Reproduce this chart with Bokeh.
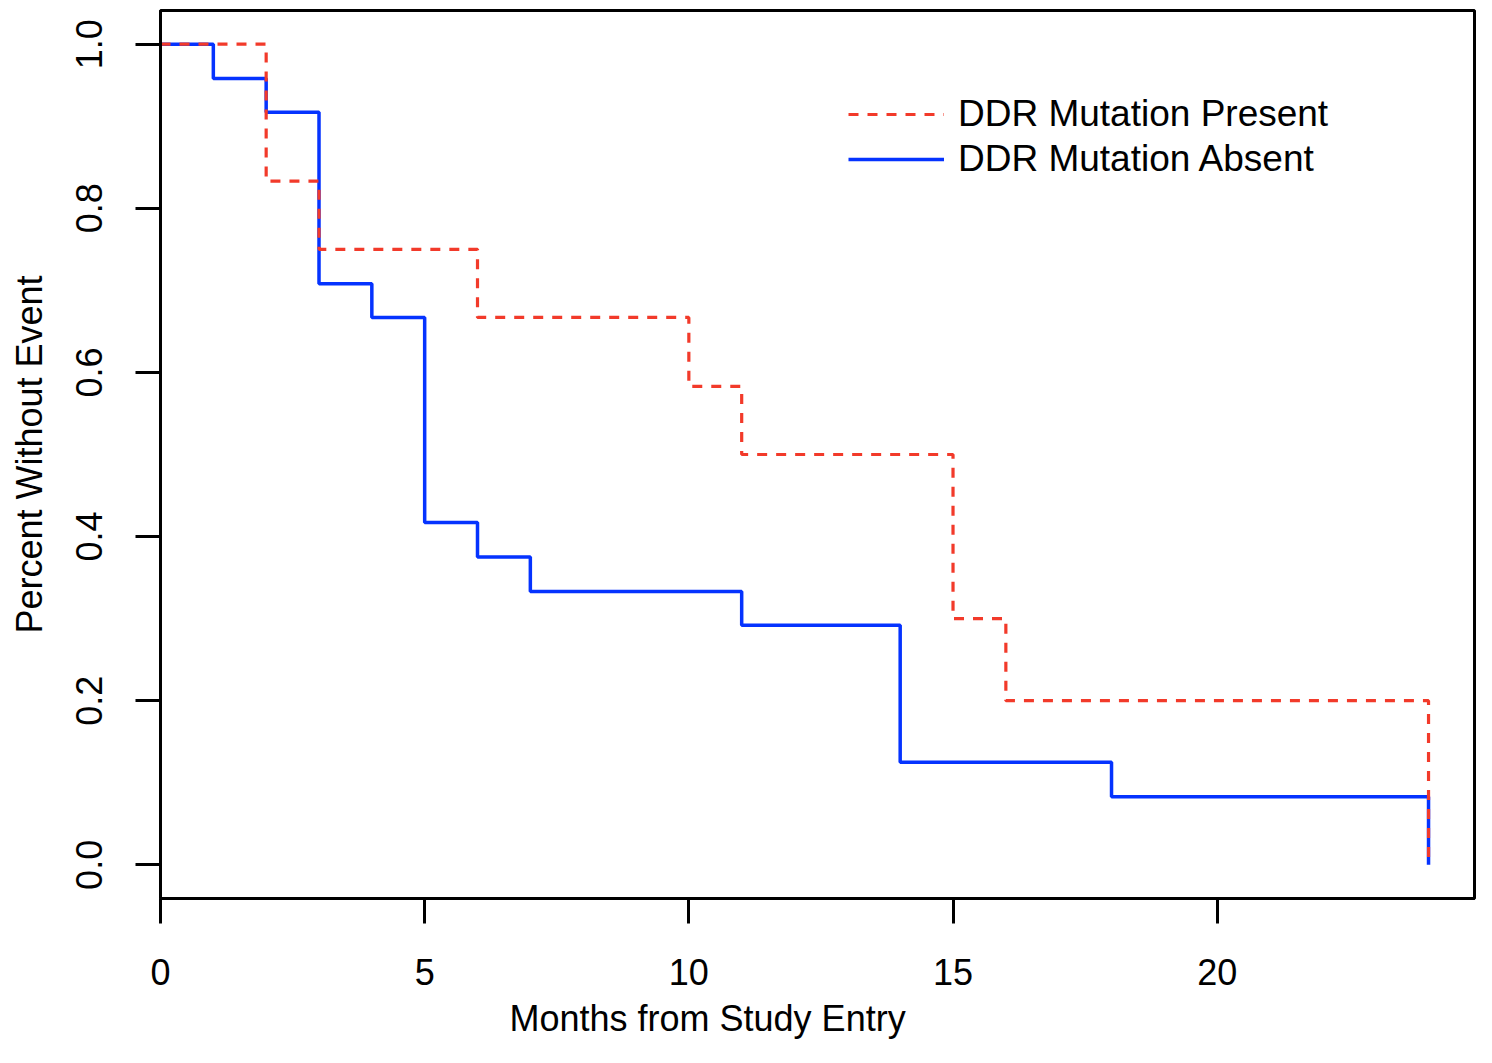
from bokeh.plotting import figure
from bokeh.models import (FixedTicker, PrintfTickFormatter, Legend, LegendItem,
                          Title, Range1d)
from bokeh.embed import file_html
from bokeh.resources import INLINE

# Data (Kaplan-Meier step curves)
present_months = [0, 2, 3, 6, 10, 11, 15, 16, 24]
present_surv = [1.0, 0.833, 0.75, 0.667, 0.583, 0.5, 0.3, 0.2, 0.0]

absent_months = [0, 1, 2, 3, 4, 5, 6, 7, 11, 14, 18, 24]
absent_surv = [1.0, 0.958, 0.917, 0.708, 0.667, 0.417, 0.375, 0.333, 0.292, 0.125, 0.083, 0.0]

x_ticks = [0, 5, 10, 15, 20]
y_ticks = [0.0, 0.2, 0.4, 0.6, 0.8, 1.0]

FONT = "Liberation Sans"
RED = "#f23a2a"
BLUE = "#0533ff"

p = figure(width=1476, height=1047, output_backend="svg", toolbar_location=None,
           x_range=Range1d(0, 24.87), y_range=Range1d(-0.041, 1.041),
           min_border_left=160, min_border_right=2, min_border_top=10,
           min_border_bottom=149)
p.background_fill_color = "white"
p.border_fill_color = "white"
p.outline_line_color = "black"
p.outline_line_width = 3
p.xgrid.visible = False
p.ygrid.visible = False

r_abs = p.step(absent_months, absent_surv, mode="after", line_color=BLUE, line_width=3.5)
r_pre = p.step(present_months, present_surv, mode="after", line_color=RED, line_width=3.2,
               line_dash="10 9")

for ax in (p.xaxis[0], p.yaxis[0]):
    ax.axis_line_width = 3
    ax.axis_line_color = "black"
    ax.major_tick_line_width = 3
    ax.major_tick_in = 0
    ax.major_tick_out = 25
    ax.minor_tick_line_color = None
    ax.major_label_text_font = FONT
    ax.major_label_text_font_size = "36px"
    ax.major_label_text_color = "black"

p.xaxis[0].ticker = FixedTicker(ticks=x_ticks)
p.xaxis[0].major_label_standoff = 35

p.yaxis[0].ticker = FixedTicker(ticks=y_ticks)
p.yaxis[0].formatter = PrintfTickFormatter(format="%.1f")
p.yaxis[0].major_label_orientation = "vertical"
p.yaxis[0].major_label_standoff = 33
p.yaxis[0].axis_label = "Percent Without Event"
p.yaxis[0].axis_label_text_font = FONT
p.yaxis[0].axis_label_text_font_size = "36px"
p.yaxis[0].axis_label_text_font_style = "normal"
p.yaxis[0].axis_label_text_color = "black"
p.yaxis[0].axis_label_standoff = 24

xt = Title(text="Months from Study Entry", align="left", offset=349,
           text_font=FONT, text_font_size="36px", text_font_style="normal",
           text_color="black", standoff=17)
p.add_layout(xt, "below")

legend = Legend(items=[LegendItem(label="DDR Mutation Present", renderers=[r_pre]),
                       LegendItem(label="DDR Mutation Absent", renderers=[r_abs])],
                location=(688, 718), border_line_color=None, background_fill_alpha=0,
                label_text_font=FONT, label_text_font_size="37px",
                label_text_color="black", glyph_width=96, glyph_height=40,
                label_height=40, label_standoff=14, spacing=3, padding=0, margin=0)
p.add_layout(legend, "center")

open("out.html", "w").write(file_html(p, INLINE))
